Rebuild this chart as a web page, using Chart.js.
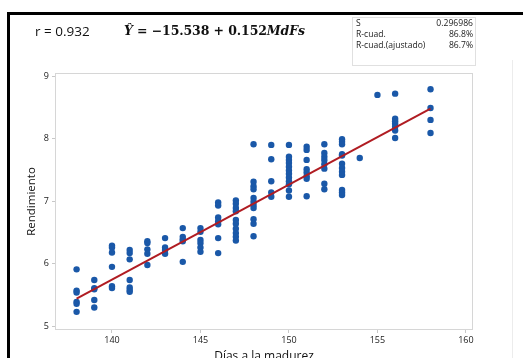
<!DOCTYPE html>
<html>
<head>
<meta charset="utf-8">
<script src="https://cdn.jsdelivr.net/npm/chart.js@4.4.1/dist/chart.umd.min.js"></script>
<style>
  html, body { margin:0; padding:0; width:523px; height:358px; overflow:hidden; background:#fff; }
  #wrap { position:relative; width:523px; height:358px; overflow:hidden; }
  canvas { position:absolute; left:0; top:0; }
  .frameTop { position:absolute; left:7px; top:12px; width:520px; height:3px; background:#000; }
  .frameLeft { position:absolute; left:7px; top:12px; width:3px; height:360px; background:#000; }
  .faint { position:absolute; left:512px; top:60px; width:1px; height:300px; background:#ececec; }
  .rtxt { position:absolute; left:35px; top:22px; font-family:"Open Sans", sans-serif; font-size:13.5px; color:#111; }
  .eq { position:absolute; left:124px; top:23px; font-family:"DejaVu Serif", serif; font-weight:bold; font-size:12.5px; color:#111; white-space:nowrap; letter-spacing:-0.1px;}
  .eq i { font-style:italic; }
  .stats { position:absolute; left:352px; top:17px; width:122px; height:47px; border:1px solid #e0e0e0; font-family:"Open Sans", sans-serif; font-size:8.6px; color:#222; }
  .row { position:absolute; left:3px; right:2px; height:11px; }
  .row .k { position:absolute; left:0; }
  .row .v { position:absolute; right:0; }
</style>
</head>
<body>
<div id="wrap">
  <canvas id="c" width="523" height="375"></canvas>
  <div class="frameTop"></div>
  <div class="frameLeft"></div>
  <div class="faint"></div>
  <div class="rtxt">r = 0.932</div>
  <div class="eq"><i>Ŷ</i> = −15.538 + 0.152<i>MdFs</i></div>
  <div class="stats">
    <div class="row" style="top:-1px"><span class="k">S</span><span class="v">0.296986</span></div>
    <div class="row" style="top:10px"><span class="k">R-cuad.</span><span class="v">86.8%</span></div>
    <div class="row" style="top:21px"><span class="k">R-cuad.(ajustado)</span><span class="v">86.7%</span></div>
  </div>
</div>
<script>
// Days to maturity for each column of points
const columnDays = [138, 139, 140, 141, 142, 143, 144, 145, 146, 147, 148, 149, 150, 151, 152, 153, 154, 155, 156, 158];
// Yield values observed at each day (same order as columnDays)
const columnValues = [
  [5.91, 5.57, 5.54, 5.39, 5.36, 5.23],
  [5.74, 5.61, 5.59, 5.42, 5.30],
  [6.29, 6.26, 6.18, 5.95, 5.64, 5.61],
  [6.22, 6.17, 6.07, 5.74, 5.62, 5.58, 5.55],
  [6.36, 6.33, 6.23, 6.16, 5.98],
  [6.41, 6.26, 6.22, 6.16],
  [6.57, 6.43, 6.39, 6.36, 6.03],
  [6.57, 6.51, 6.38, 6.33, 6.26, 6.19],
  [6.98, 6.93, 6.74, 6.68, 6.63, 6.41, 6.17],
  [7.01, 6.96, 6.89, 6.84, 6.70, 6.64, 6.56, 6.49, 6.43, 6.37],
  [7.91, 7.31, 7.24, 7.19, 7.05, 6.99, 6.94, 6.89, 6.71, 6.64, 6.44],
  [7.90, 7.67, 7.32, 7.14, 7.07],
  [7.90, 7.71, 7.66, 7.61, 7.55, 7.49, 7.44, 7.38, 7.32, 7.27, 7.17, 7.07],
  [7.87, 7.82, 7.66, 7.51, 7.46, 7.40, 7.36, 7.08],
  [7.91, 7.77, 7.71, 7.66, 7.59, 7.52, 7.28, 7.19],
  [7.99, 7.95, 7.91, 7.75, 7.73, 7.60, 7.53, 7.47, 7.42, 7.18, 7.14, 7.10],
  [7.69],
  [8.70],
  [8.72, 8.32, 8.28, 8.24, 8.19, 8.13, 8.01],
  [8.79, 8.49, 8.30, 8.09]
];
// Fitted line end points
const fitX = [138, 158];
const fitY = [5.44, 8.48];
// Axis ticks
const xTicks = [140, 145, 150, 155, 160];
const yTicks = [5, 6, 7, 8, 9];

const points = [];
columnDays.forEach((d, i) => columnValues[i].forEach(v => points.push({x: d, y: v})));
const fitLine = fitX.map((x, i) => ({x: x, y: fitY[i]}));

const tickFont = {family: "'Open Sans', sans-serif", size: 9};
const framePlugin = {
  id: 'frame',
  afterDraw(chart) {
    const {ctx, chartArea: a} = chart;
    ctx.save();
    ctx.strokeStyle = '#d6d6d6';
    ctx.lineWidth = 1;
    ctx.strokeRect(a.left + 0.5, a.top + 0.5, a.right - a.left - 1, a.bottom - a.top - 1);
    ctx.restore();
  }
};

new Chart(document.getElementById('c'), {
  type: 'scatter',
  data: {
    datasets: [
      {
        type: 'line',
        data: fitLine,
        borderColor: '#b01c22',
        borderWidth: 2,
        pointRadius: 0,
        fill: false,
        tension: 0
      },
      {
        data: points,
        backgroundColor: '#1a58a8',
        borderColor: '#1a58a8',
        borderWidth: 0,
        pointRadius: 3.2,
        pointHoverRadius: 3.2
      }
    ]
  },
  options: {
    responsive: false,
    animation: false,
    devicePixelRatio: 1,
    layout: {padding: {left: 0, right: 50, top: 73, bottom: 0}},
    plugins: {legend: {display: false}, tooltip: {enabled: false}},
    scales: {
      x: {
        type: 'linear',
        min: 136.78,
        max: 160.4,
        afterBuildTicks: s => { s.ticks = xTicks.map(v => ({value: v})); },
        afterFit: s => { s.height = 45; },
        grid: {drawOnChartArea: false, drawTicks: true, tickLength: 3, color: '#c8c8c8'},
        border: {display: false},
        ticks: {font: tickFont, color: '#222', padding: 2, maxRotation: 0},
        title: {display: true, text: 'Días a la madurez', font: {family: "'Open Sans', sans-serif", size: 12}, color: '#111', padding: {top: 0, bottom: 11}}
      },
      y: {
        type: 'linear',
        min: 4.94,
        max: 9.05,
        afterBuildTicks: s => { s.ticks = yTicks.map(v => ({value: v})); },
        afterFit: s => { s.width = 55; },
        grid: {drawOnChartArea: false, drawTicks: true, tickLength: 3, color: '#c8c8c8'},
        border: {display: false},
        ticks: {font: tickFont, color: '#222', padding: 3},
        title: {display: true, text: 'Rendimiento', font: {family: "'Open Sans', sans-serif", size: 11.5}, color: '#111', padding: {top: 25, bottom: 0}}
      }
    }
  },
  plugins: [framePlugin]
});
</script>
</body>
</html>
